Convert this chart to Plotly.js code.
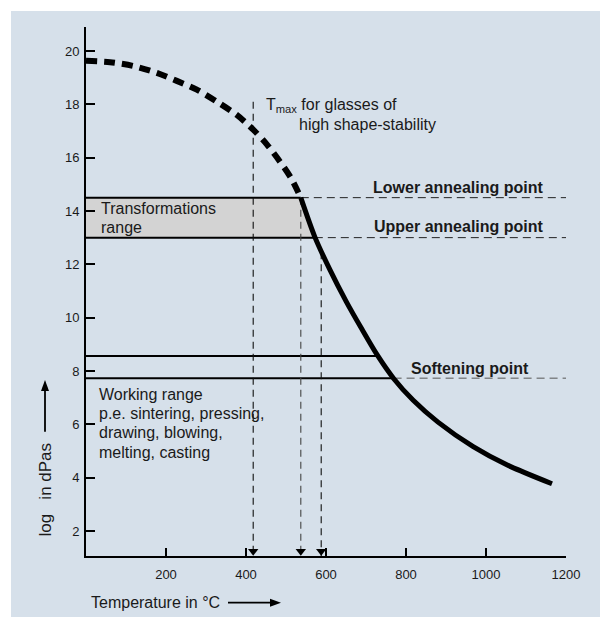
<!DOCTYPE html>
<html>
<head>
<meta charset="utf-8">
<script src="https://cdn.plot.ly/plotly-3.0.1.min.js"></script>
<style>html,body{margin:0;padding:0;background:#fff;}#chart{width:600px;height:617px;}</style>
</head>
<body>
<div id="chart"></div>
<script>
// ---- data ----
const tempTicks = [200, 400, 600, 800, 1000, 1200];
const viscTicks = [2, 4, 6, 8, 10, 12, 14, 16, 18, 20];

// viscosity curve, extrapolated (dashed) part
const dashedT = [0, 60, 118, 177, 227, 277, 327, 377, 418, 452, 485, 514, 537];
const dashedV = [19.63, 19.58, 19.44, 19.18, 18.88, 18.55, 18.1, 17.6, 17.05, 16.5, 15.85, 15.2, 14.5];
// viscosity curve, measured (solid) part
const solidT = [537, 572, 610, 650, 690, 728, 770, 818, 880, 968, 1052, 1165];
const solidV = [14.5, 13.03, 11.79, 10.62, 9.56, 8.6, 7.7, 6.9, 6.08, 5.16, 4.48, 3.77];

// characteristic levels (log viscosity) and their temperatures on the curve
const levelNames = ['Lower annealing point', 'Upper annealing point', 'Working top', 'Softening point'];
const levelV = [14.5, 13.0, 8.56, 7.73];
const levelT = [537, 572, 730, 769];

// vertical markers (temperature, start level)
const markerT = [418, 537, 588];
const markerV = [18.1, 14.5, 12.45];

const tMax = 1200;
const yMin = 1.06, yMax = 20.9;

// ---- layout helpers ----
const W = 600, H = 617, ML = 86, MR = 34, MT = 27, MB = 61;
const PW = W - ML - MR, PH = H - MT - MB;
const px2x = p => (p - ML) / PW;          // pixel -> paper x
const py2y = p => (H - MB - p) / PH;      // pixel -> paper y
const FONT = 'Liberation Sans, Arial, sans-serif';

const traces = [];
// transformation range fill
traces.push({
  x: [0, levelT[0], levelT[1], 0], y: [levelV[0], levelV[0], levelV[1], levelV[1]],
  mode: 'lines', fill: 'toself', fillcolor: '#d3d3d3', line: {width: 0}, hoverinfo: 'skip'
});
// solid horizontal lines from axis to curve
for (let i = 0; i < levelV.length; i++) {
  traces.push({x: [0, levelT[i]], y: [levelV[i], levelV[i]], mode: 'lines',
    line: {color: '#000', width: 2}, hoverinfo: 'skip'});
}
// dashed continuation lines
[0, 1, 3].forEach(i => {
  traces.push({x: [levelT[i], tMax], y: [levelV[i], levelV[i]], mode: 'lines',
    line: {color: i === 3 ? '#555' : '#222', width: 1, dash: '8px,5px'}, hoverinfo: 'skip'});
});
// vertical dashed markers
for (let i = 0; i < markerT.length; i++) {
  traces.push({x: [markerT[i], markerT[i]], y: [markerV[i], yMin], mode: 'lines',
    line: {color: i === 1 ? '#444' : '#111', width: 1.1, dash: '7px,5px'}, hoverinfo: 'skip'});
}
// arrow heads at axis
traces.push({x: markerT, y: markerT.map(() => yMin + 0.18), mode: 'markers',
  marker: {symbol: 'triangle-down', size: 9, color: '#000'}, hoverinfo: 'skip'});
// curve
traces.push({x: dashedT, y: dashedV, mode: 'lines',
  line: {color: '#000', width: 6, dash: '11px,7px', shape: 'spline', smoothing: 0.8}, hoverinfo: 'skip'});
traces.push({x: solidT, y: solidV, mode: 'lines',
  line: {color: '#000', width: 5, shape: 'spline', smoothing: 0.8}, hoverinfo: 'skip'});

const txt = (x, y, text, extra) => Object.assign({
  x: x, y: y, xref: 'x', yref: 'y', text: text, showarrow: false,
  xanchor: 'left', yanchor: 'middle', font: {family: FONT, size: 16, color: '#1a1a1a'}
}, extra || {});

const annotations = [
  txt(33, 14.10, 'Transformations'),
  txt(33, 13.39, 'range'),
  txt(27, 7.12, 'Working range'),
  txt(27, 6.40, 'p.e. sintering, pressing,'),
  txt(27, 5.68, 'drawing, blowing,'),
  txt(27, 4.96, 'melting, casting'),
  txt(446, 17.94, 'T<sub>max</sub> for glasses of'),
  txt(527, 17.23, 'high shape-stability'),
  txt(711.7, 14.88, '<b>' + levelNames[0] + '</b>'),
  txt(714, 13.42, '<b>' + levelNames[1] + '</b>'),
  txt(808, 8.11, '<b>' + levelNames[3] + '</b>'),
  // axis titles
  {x: px2x(89.3), y: py2y(602), xref: 'paper', yref: 'paper', text: 'Temperature in °C',
   showarrow: false, xanchor: 'left', yanchor: 'middle', font: {family: FONT, size: 16, color: '#1a1a1a'}},
  {x: px2x(45), y: py2y(489.5), xref: 'paper', yref: 'paper', text: 'log\u00a0\u00a0\u00a0in dPas',
   textangle: -90, showarrow: false, xanchor: 'center', yanchor: 'middle', font: {family: FONT, size: 17, color: '#1a1a1a'}}
];

const shapes = [
  {type: 'rect', xref: 'paper', yref: 'paper', x0: px2x(11), x1: px2x(620), y0: py2y(640), y1: py2y(11),
   fillcolor: '#d6e0ea', line: {width: 0}, layer: 'below'},
  // x title arrow
  {type: 'line', xref: 'paper', yref: 'paper', x0: px2x(228), x1: px2x(272), y0: py2y(602.7), y1: py2y(602.7),
   line: {color: '#000', width: 1.8}},
  {type: 'path', xref: 'paper', yref: 'paper', fillcolor: '#000', line: {width: 0},
   path: `M${px2x(270)},${py2y(598.7)} L${px2x(281)},${py2y(602.7)} L${px2x(270)},${py2y(606.7)} Z`},
  // y title arrow
  {type: 'line', xref: 'paper', yref: 'paper', x0: px2x(45), x1: px2x(45), y0: py2y(431.7), y1: py2y(389),
   line: {color: '#000', width: 1.8}},
  {type: 'path', xref: 'paper', yref: 'paper', fillcolor: '#000', line: {width: 0},
   path: `M${px2x(41)},${py2y(391)} L${px2x(45)},${py2y(380)} L${px2x(49)},${py2y(391)} Z`}
];

const layout = {
  width: W, height: H,
  margin: {l: ML, r: MR, t: MT, b: MB, pad: 0},
  paper_bgcolor: '#ffffff', plot_bgcolor: 'rgba(0,0,0,0)',
  showlegend: false,
  font: {family: FONT, size: 13, color: '#1a1a1a'},
  xaxis: {range: [0, tMax], tickvals: tempTicks, ticktext: tempTicks.map(String),
    ticks: 'inside', ticklen: 8, tickwidth: 2, tickcolor: '#000',
    showline: true, linecolor: '#000', linewidth: 2, showgrid: false, zeroline: false,
    tickfont: {family: FONT, size: 13, color: '#1a1a1a'}, ticklabelstandoff: 5, fixedrange: true},
  yaxis: {range: [yMin, yMax], tickvals: viscTicks, ticktext: viscTicks.map(String),
    ticks: 'inside', ticklen: 9, tickwidth: 2, tickcolor: '#000',
    showline: true, linecolor: '#000', linewidth: 2, showgrid: false, zeroline: false,
    tickfont: {family: FONT, size: 13, color: '#1a1a1a'}, ticklabelstandoff: 2, fixedrange: true},
  annotations: annotations,
  shapes: shapes
};

Plotly.newPlot('chart', traces, layout, {displayModeBar: false, staticPlot: true});
</script>
</body>
</html>
